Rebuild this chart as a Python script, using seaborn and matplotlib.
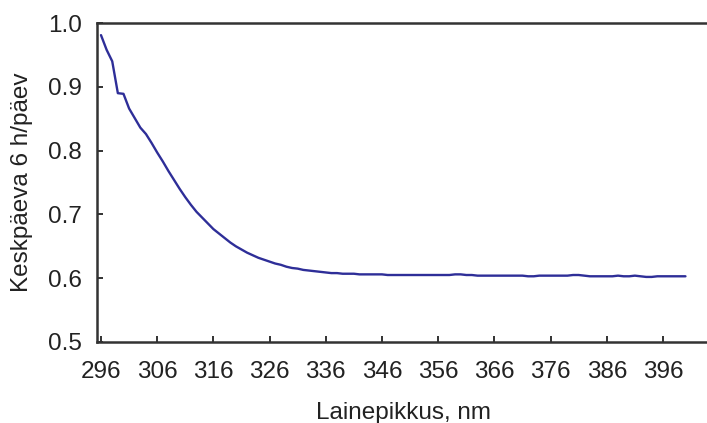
import numpy as np
import pandas as pd
import matplotlib
matplotlib.use("Agg")
import matplotlib.pyplot as plt
import seaborn as sns

# Wavelength grid (nm) and relative midday dose (6 h per day)
wavelength = list(range(296, 401))
dose = [
    0.981, 0.958, 0.940, 0.890, 0.889, 0.866, 0.851, 0.836, 0.826, 0.812,
    0.797, 0.783, 0.768, 0.754, 0.740, 0.727, 0.715, 0.704, 0.695, 0.686,
    0.677, 0.670, 0.663, 0.656, 0.650, 0.645, 0.640, 0.636, 0.632, 0.629,
    0.626, 0.623, 0.621, 0.618, 0.616, 0.615, 0.613, 0.612, 0.611, 0.610,
    0.609, 0.608, 0.608, 0.607, 0.607, 0.607, 0.606, 0.606, 0.606, 0.606,
    0.606, 0.605, 0.605, 0.605, 0.605, 0.605, 0.605, 0.605, 0.605, 0.605,
    0.605, 0.605, 0.605, 0.606, 0.606, 0.605, 0.605, 0.604, 0.604, 0.604,
    0.604, 0.604, 0.604, 0.604, 0.604, 0.604, 0.603, 0.603, 0.604, 0.604,
    0.604, 0.604, 0.604, 0.604, 0.605, 0.605, 0.604, 0.603, 0.603, 0.603,
    0.603, 0.603, 0.604, 0.603, 0.603, 0.604, 0.603, 0.602, 0.602, 0.603,
    0.603, 0.603, 0.603, 0.603, 0.603,
]
x_ticks = [296, 306, 316, 326, 336, 346, 356, 366, 376, 386, 396]
y_ticks = [0.5, 0.6, 0.7, 0.8, 0.9, 1.0]

df = pd.DataFrame({"wl": wavelength, "dose": dose})

sns.set_theme(style="white")
plt.rcParams["font.family"] = ["Liberation Sans", "DejaVu Sans"]

fig = plt.figure(figsize=(7.07, 4.23), dpi=100)
ax = fig.add_axes([97 / 707, 1 - 342 / 423, 612 / 707, (342 - 23) / 423])

sns.lineplot(data=df, x="wl", y="dose", ax=ax, color="#2e2e98", linewidth=1.7)

ax.set_xlim(295.29, 404.19)
ax.set_ylim(0.5, 1.0)
ax.set_xticks(x_ticks)
ax.set_yticks(y_ticks)
ax.set_yticklabels([f"{v:.1f}" for v in y_ticks])

ax.tick_params(axis="both", direction="in", length=4, width=1.3,
               color="#222222", labelsize=17.5, labelcolor="#222222")
ax.tick_params(axis="y", pad=11, left=True)
ax.tick_params(axis="x", pad=14, bottom=True)

for side in ["left", "bottom", "top"]:
    ax.spines[side].set_visible(True)
    ax.spines[side].set_color("#333333")
    ax.spines[side].set_linewidth(1.8)
ax.spines["right"].set_visible(False)

ax.set_xlabel("Lainepikkus, nm", fontsize=17.5, color="#222222", labelpad=13)
ax.set_ylabel("Keskpäeva 6 h/päev", fontsize=17.5, color="#222222", labelpad=11)

fig.savefig("out.png", dpi=100)
